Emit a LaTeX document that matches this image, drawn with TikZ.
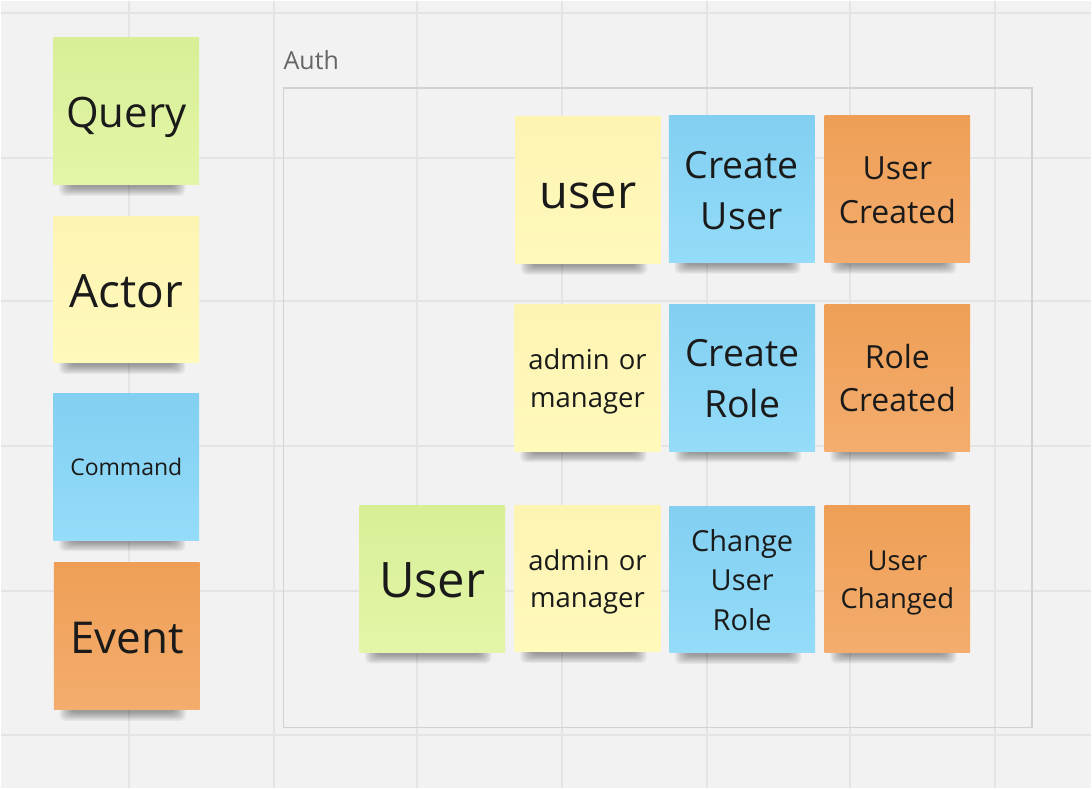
\documentclass[tikz,border=0pt]{standalone}
\usepackage{fontspec}
\setmainfont{Open Sans}
\usetikzlibrary{calc}
\pgfdeclarelayer{background}
\pgfsetlayers{background,main}
\definecolor{bg}{HTML}{F2F2F2}
\definecolor{gridc}{HTML}{E4E4E4}
\definecolor{framec}{HTML}{D2D2D2}
\definecolor{ink}{HTML}{1A1A1A}
\definecolor{labelc}{HTML}{666666}
\definecolor{grT}{HTML}{D8EF96}\definecolor{grB}{HTML}{E3F5A8}
\definecolor{ylT}{HTML}{FDF4B2}\definecolor{ylB}{HTML}{FFF9BC}
\definecolor{blT}{HTML}{82CFF2}\definecolor{blB}{HTML}{94DCF8}
\definecolor{orT}{HTML}{EE9F55}\definecolor{orB}{HTML}{F4AD6E}
\newcommand\ms{\vrule height 1.069em depth 0.293em width 0pt\relax}
\tikzset{
  note/.style={minimum width=146pt, minimum height=147pt, inner sep=0pt,
    text=ink, align=center, text width=142pt},
  green/.style={note, top color=grT, bottom color=grB},
  yellow/.style={note, top color=ylT, bottom color=ylB},
  blue/.style={note, top color=blT, bottom color=blB},
  orange/.style={note, top color=orT, bottom color=orB},
  fs/.style={font=\fontsize{#1}{1.362*#1}\selectfont},
  gridline/.style={draw=gridc, line width=2pt},
  shadowlayer/.style={fill=black, opacity=0.05, rounded corners=5pt},
}
\begin{document}
\begin{tikzpicture}[x=1pt, y=-1pt]
\begin{pgfonlayer}{background}
\fill[bg] (0,0) rectangle (1092,788);
\foreach \gx in {128,273,417,562,707,851,996} \draw[gridline] (\gx,0) -- (\gx,788);
\foreach \gy in {12,157,301,446,591,735} \draw[gridline] (0,\gy) -- (1092,\gy);
\end{pgfonlayer}
\useasboundingbox (0,0) rectangle (1092,788);
% frame
\draw[framec, line width=1.6pt] (283,87) rectangle (1033,728);
\node[anchor=base west, inner sep=0pt, text=labelc, font=\fontsize{25}{30}\selectfont] (auth) at (283,69) {Auth};
% legend
\node[green, font=\fontsize{42}{57.2}\selectfont] (query) at (125.5,110.5) {\ms Query};
\node[yellow, font=\fontsize{46}{62.7}\selectfont] (actor) at (125.5,289) {\ms Actor};
\node[blue, font=\fontsize{23}{31.3}\selectfont] (command) at (125.5,466.5) {\ms Command};
\node[orange, font=\fontsize{44}{59.9}\selectfont] (event) at (126,636.5) {\ms Event};
% row 1
\node[yellow, font=\fontsize{47}{64}\selectfont] (user) at (588,189.5) {\ms user};
\node[blue, font=\fontsize{37.5}{51.1}\selectfont] (createuser) at (742,188.5) {\ms Create\\\ms User};
\node[orange, font=\fontsize{32}{43.6}\selectfont] (usercreated) at (898,188.5) {\ms User\\\ms Created};
% row 2
\node[yellow, font=\fontsize{27.5}{37.5}\selectfont] (adminA) at (587.5,377.5) {\ms admin or\\\ms manager};
\node[blue, font=\fontsize{37.5}{51.1}\selectfont] (createrole) at (742.5,377.5) {\ms Create\\\ms Role};
\node[orange, font=\fontsize{32}{43.6}\selectfont] (rolecreated) at (898,377.5) {\ms Role\\\ms Created};
% row 3
\node[green, font=\fontsize{49}{66.7}\selectfont] (userq) at (432,579) {\ms User};
\node[yellow, font=\fontsize{27.5}{37.5}\selectfont] (adminB) at (587.5,578.5) {\ms admin or\\\ms manager};
\node[blue, font=\fontsize{29}{39.5}\selectfont] (changeuserrole) at (742.5,579.5) {\ms Change\\\ms User\\\ms Role};
\node[orange, font=\fontsize{27.5}{37.5}\selectfont] (userchanged) at (898,579) {\ms User\\\ms Changed};
% shadows
\begin{pgfonlayer}{background}
\foreach \n in {query,actor,command,event,user,createuser,usercreated,adminA,createrole,rolecreated,userq,adminB,changeuserrole,userchanged}{
  \foreach \k in {0,...,7}{
    \fill[shadowlayer] ($(\n.south west)+(6+1.6*\k,-20)$) rectangle ($(\n.south east)+(-14-1.6*\k,11-1.2*\k)$);
  }
}
\end{pgfonlayer}
\end{tikzpicture}
\end{document}
